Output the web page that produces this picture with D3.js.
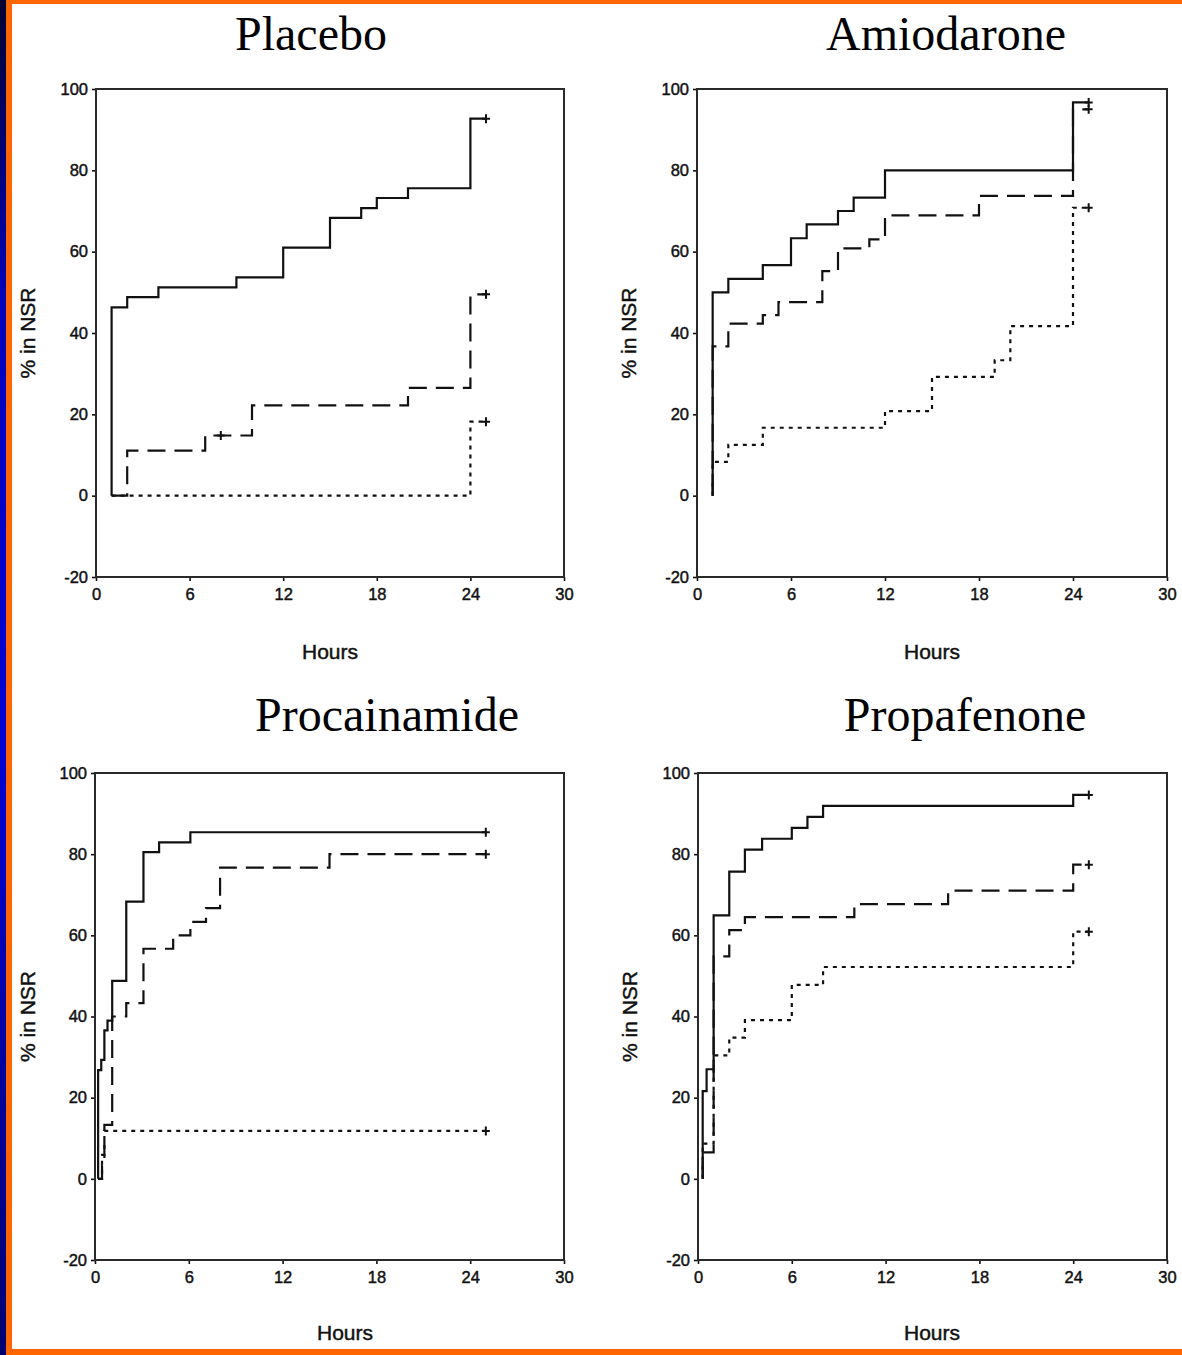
<!DOCTYPE html>
<html>
<head>
<meta charset="utf-8">
<script src="https://cdn.jsdelivr.net/npm/d3@7"></script>
<style>
  html, body { margin: 0; padding: 0; background: #fff; }
  svg { display: block; }
</style>
</head>
<body>
<script>
// ---- Data: cumulative % in normal sinus rhythm over time, per treatment arm ----
const panelTitles = ["Placebo", "Amiodarone", "Procainamide", "Propafenone"];
const xTicks = [0, 6, 12, 18, 24, 30];
const yTicks = [100, 80, 60, 40, 20, 0, -20];
const followUpEnd = 25; // hours; every curve is censored here

// Placebo
const placeboSolidHours  = [1, 1, 2, 4, 9, 12, 15, 17, 18, 20, 24];
const placeboSolidPct    = [0, 46.3, 48.8, 51.2, 53.7, 61.0, 68.3, 70.7, 73.2, 75.6, 92.7];
const placeboDashedHours = [1, 2, 7, 10, 20, 24];
const placeboDashedPct   = [0, 11.1, 14.8, 22.2, 26.5, 49.5];
const placeboDottedHours = [1, 24];
const placeboDottedPct   = [0, 18.2];
const placeboDashedCensorHours = [8];

// Amiodarone
const amioSolidHours  = [1, 1, 2, 4.2, 6, 7, 9, 10, 12, 24];
const amioSolidPct    = [0, 50.0, 53.3, 56.7, 63.3, 66.7, 70.0, 73.3, 80.0, 96.7];
const amioDashedHours = [1, 1, 2, 4.2, 5.2, 8, 9, 11, 12, 18, 24];
const amioDashedPct   = [0, 36.7, 42.3, 44.4, 47.6, 55.2, 60.8, 63.0, 68.9, 73.7, 95.0];
const amioDottedHours = [1, 1, 2, 4.2, 12, 15, 19, 20, 24];
const amioDottedPct   = [0, 8.3, 12.5, 16.7, 20.8, 29.2, 33.3, 41.7, 70.8];

// Procainamide
const procSolidHours  = [0.2, 0.2, 0.4, 0.6, 0.8, 1.1, 2, 3.1, 4.1, 6.1];
const procSolidPct    = [0, 26.8, 29.3, 36.6, 39.0, 48.8, 68.3, 80.5, 82.9, 85.4];
const procDashedHours = [0.2, 0.45, 0.6, 1.1, 2, 3.1, 5, 6.1, 7.1, 8, 15];
const procDashedPct   = [0, 3.3, 13.3, 40.0, 43.3, 56.7, 60.0, 63.3, 66.7, 76.7, 80.0];
const procDottedHours = [0.2, 0.45, 0.6];
const procDottedPct   = [0, 5.9, 11.8];

// Propafenone
const propSolidHours  = [0.3, 0.3, 0.55, 1, 2, 3, 4.1, 6, 7, 8, 24];
const propSolidPct    = [0, 21.6, 27.0, 64.9, 75.7, 81.1, 83.8, 86.5, 89.2, 91.9, 94.6];
const propDashedHours = [0.3, 0.3, 1, 2, 3, 10, 16, 24];
const propDashedPct   = [0, 6.5, 54.8, 61.3, 64.5, 67.7, 71.0, 77.4];
const propDottedHours = [0.3, 0.3, 1, 2, 3, 6, 8, 24];
const propDottedPct   = [0, 8.7, 30.4, 34.8, 39.1, 47.8, 52.2, 60.9];

const panelSeries = [
  [
    { kind: "solid",  hours: placeboSolidHours,  pct: placeboSolidPct,  censor: [] },
    { kind: "dashed", hours: placeboDashedHours, pct: placeboDashedPct, censor: placeboDashedCensorHours },
    { kind: "dotted", hours: placeboDottedHours, pct: placeboDottedPct, censor: [] }
  ],
  [
    { kind: "solid",  hours: amioSolidHours,  pct: amioSolidPct,  censor: [] },
    { kind: "dashed", hours: amioDashedHours, pct: amioDashedPct, censor: [] },
    { kind: "dotted", hours: amioDottedHours, pct: amioDottedPct, censor: [] }
  ],
  [
    { kind: "solid",  hours: procSolidHours,  pct: procSolidPct,  censor: [] },
    { kind: "dashed", hours: procDashedHours, pct: procDashedPct, censor: [] },
    { kind: "dotted", hours: procDottedHours, pct: procDottedPct, censor: [] }
  ],
  [
    { kind: "solid",  hours: propSolidHours,  pct: propSolidPct,  censor: [] },
    { kind: "dashed", hours: propDashedHours, pct: propDashedPct, censor: [] },
    { kind: "dotted", hours: propDottedHours, pct: propDottedPct, censor: [] }
  ]
];

// ---- Layout ----
const W = 1182, H = 1355;
const layout = [
  { left: 96,  right: 564,  top: 89,  bottom: 577,  titleX: 311, titleY: 50,  ylabX: 28,  hoursX: 330, hoursY: 659 },
  { left: 697, right: 1167, top: 89,  bottom: 577,  titleX: 946, titleY: 50,  ylabX: 629, hoursX: 932, hoursY: 659 },
  { left: 95,  right: 564,  top: 773, bottom: 1260, titleX: 387, titleY: 731, ylabX: 28,  hoursX: 345, hoursY: 1340 },
  { left: 698, right: 1167, top: 773, bottom: 1260, titleX: 965, titleY: 731, ylabX: 630, hoursX: 932, hoursY: 1340 }
];
const dashFor = { solid: null, dashed: "18,9", dotted: "4,5" };
const ink = "#111";
const sans = "'Liberation Sans', Arial, Helvetica, sans-serif";
const serif = "'Liberation Serif', 'Times New Roman', Times, serif";
const tickFmt = d => String(d); // plain hyphen for negatives

const svg = d3.select("body").append("svg").attr("width", W).attr("height", H);

// Slide frame: blue strip + orange rule on the left, orange rules top and bottom
const defs = svg.append("defs");
const grad = defs.append("linearGradient").attr("id", "edgeBlue")
  .attr("x1", 0).attr("y1", 0).attr("x2", 0).attr("y2", 1);
[["0", "#000030"], ["0.22", "#0000b8"], ["0.55", "#0000d4"], ["1", "#000070"]]
  .forEach(([o, c]) => grad.append("stop").attr("offset", o).attr("stop-color", c));

svg.append("rect").attr("width", W).attr("height", H).attr("fill", "#fff");
svg.append("rect").attr("x", 0).attr("y", 0).attr("width", W).attr("height", 4).attr("fill", "#ff6600");
svg.append("rect").attr("x", 0).attr("y", H - 6).attr("width", W).attr("height", 6).attr("fill", "#ff6600");
svg.append("rect").attr("x", 6).attr("y", 0).attr("width", 6).attr("height", H).attr("fill", "#ff6600");
svg.append("rect").attr("x", 0).attr("y", 0).attr("width", 6).attr("height", H).attr("fill", "url(#edgeBlue)");

// Sans labels are set slightly heavy, as in the printed figure
const heavy = sel => sel.attr("fill", ink).attr("stroke", ink).attr("stroke-width", 0.45);

panelSeries.forEach((series, i) => {
  const L = layout[i];
  const x = d3.scaleLinear().domain([0, 30]).range([L.left, L.right]);
  const y = d3.scaleLinear().domain([-20, 100]).range([L.bottom, L.top]);
  const g = svg.append("g");

  // Title
  g.append("text")
    .attr("x", L.titleX).attr("y", L.titleY)
    .attr("text-anchor", "middle")
    .attr("font-family", serif).attr("font-size", 48)
    .attr("fill", "#000")
    .text(panelTitles[i]);

  // Axes
  const yAxis = g.append("g")
    .attr("transform", `translate(${L.left},0)`)
    .call(d3.axisLeft(y).tickValues(yTicks).tickSize(4).tickPadding(4).tickFormat(tickFmt));
  const xAxis = g.append("g")
    .attr("transform", `translate(0,${L.bottom})`)
    .call(d3.axisBottom(x).tickValues(xTicks).tickSize(4).tickPadding(7).tickFormat(tickFmt));
  [yAxis, xAxis].forEach(a => {
    a.attr("font-size", null).attr("font-family", null);
    a.select(".domain").remove();
    a.selectAll(".tick line").attr("stroke", ink).attr("stroke-width", 1.6);
    a.selectAll(".tick text")
      .style("font-family", sans).style("font-size", "16.5px")
      .call(heavy);
  });

  // Plot frame
  g.append("rect")
    .attr("x", L.left).attr("y", L.top)
    .attr("width", L.right - L.left).attr("height", L.bottom - L.top)
    .attr("fill", "none").attr("stroke", "#2a2a2a").attr("stroke-width", 2);

  // Axis titles
  g.append("text")
    .attr("transform", `translate(${L.ylabX},${(L.top + L.bottom) / 2}) rotate(-90)`)
    .attr("text-anchor", "middle").attr("dy", "0.35em")
    .style("font-family", sans).style("font-size", "21px")
    .call(heavy)
    .text("% in NSR");
  g.append("text")
    .attr("x", L.hoursX).attr("y", L.hoursY)
    .attr("text-anchor", "middle")
    .style("font-family", sans).style("font-size", "21px")
    .call(heavy)
    .text("Hours");

  // Step curves
  const line = d3.line()
    .x(d => x(d[0])).y(d => y(d[1]))
    .curve(d3.curveStepAfter);

  series.forEach(s => {
    const pts = s.hours.map((h, k) => [h, s.pct[k]]);
    const last = s.pct[s.pct.length - 1];
    pts.push([followUpEnd, last]);
    g.append("path")
      .attr("d", line(pts))
      .attr("fill", "none")
      .attr("stroke", ink)
      .attr("stroke-width", 2.2)
      .attr("stroke-dasharray", dashFor[s.kind])
      .attr("stroke-linejoin", "miter");

    // Censoring marks
    const marks = s.censor.map(h => {
      const idx = d3.bisectRight(s.hours, h) - 1;
      return [h, s.pct[Math.max(0, idx)]];
    });
    marks.push([followUpEnd, last]);
    marks.forEach(([h, v]) => {
      const cx = x(h), cy = y(v);
      g.append("path")
        .attr("d", `M${cx - 4},${cy}H${cx + 4}M${cx},${cy - 4.5}V${cy + 4.5}`)
        .attr("stroke", ink).attr("stroke-width", 2).attr("fill", "none");
    });
  });
});
</script>
</body>
</html>
